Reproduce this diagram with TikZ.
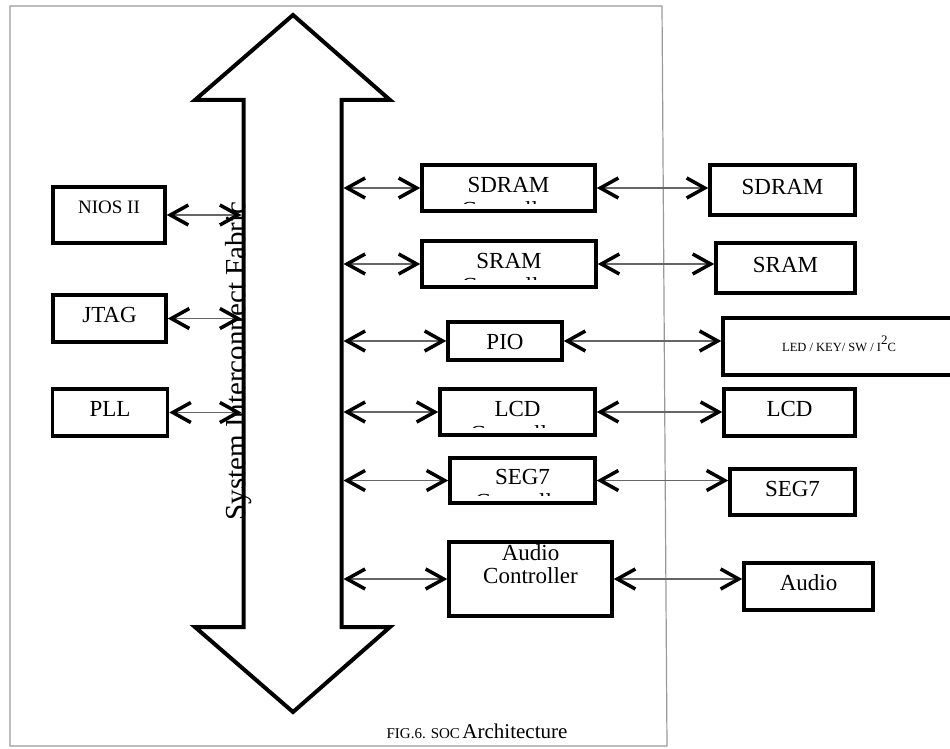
\documentclass[tikz,border=0pt]{standalone}
\usepackage{fontspec}
\setmainfont{Liberation Serif}
\usetikzlibrary{arrows.meta,calc}

\tikzset{
  blk/.style={draw, line width=3.5pt, inner sep=0pt, text height=16pt, text depth=8pt,
    font=\fontsize{23}{26}\selectfont},
  cutlbl/.style={inner sep=0pt, anchor=base, font=\fontsize{23}{26}\selectfont},
  link/.style={draw=black!60, line width=1.3pt, <->,
    >={Straight Barb[length=18pt,width=20pt,line width=3.5pt,color=black]}}
}

\begin{document}
\begin{tikzpicture}[x=1pt,y=-1pt]
\useasboundingbox (0,0) rectangle (950,749);

% outer frame
\draw[gray!80, line width=1.2pt] (10,6) -- (662,6) -- (667,746) -- (10,746) -- cycle;

% the interconnect (big double arrow)
\def\busL{243.5}
\def\busR{341.5}
\draw[line width=4pt] (293,15) -- (390,100) -- (\busR,100) -- (\busR,627) -- (390,627)
  -- (293,712) -- (195,627) -- (\busL,627) -- (\busL,100) -- (195,100) -- cycle;
\coordinate (busW) at ({\busL-2},0);
\coordinate (busE) at ({\busR+2},0);
\node[rotate=90, anchor=base, inner sep=0pt, font=\fontsize{29}{32}\selectfont] (fabric)
  at (245,361) {System Interconnect Fabric};

% masters on the left
\node[blk, minimum width=112pt, minimum height=56pt, text depth=20pt,
  font=\fontsize{19}{22}\selectfont] (nios) at (109,215) {NIOS II};
\node[blk, minimum width=113pt, minimum height=47pt] (jtag) at (109.5,318.5) {JTAG};
\node[blk, minimum width=115pt, minimum height=47pt] (pll) at (110,412.5) {PLL};
\foreach \m in {nios,jtag,pll}
  \draw[link] (\m.east) -- (\m.east -| busW);

% controllers (second line cut off)
\foreach \nm/\txt/\x/\y/\w/\h in {sdramc/SDRAM/508.5/188/173/46,
  sramc/SRAM/509/264/174/46, lcdc/LCD/517.5/412/155/46, seg7c/SEG7/522.5/480.5/145/45}
{
  \node[blk, minimum width=\w pt, minimum height=\h pt] (\nm) at (\x,\y) {\txt};
  \begin{scope}
    \clip ([yshift=9pt]\nm.south west) rectangle (\nm.north east);
    \node[cutlbl] at ([yshift=-29pt]\nm.center) {Controller};
  \end{scope}
}
\node[blk, minimum width=114pt, minimum height=38pt, text depth=0pt] (pio) at (505,341) {PIO};
\node[blk, minimum width=163pt, minimum height=74pt, align=center,
  font=\fontsize{23}{23}\selectfont] (audioc) at (530.5,579) {Audio\\Controller};

% devices on the right
\foreach \nm/\txt/\x/\y/\w/\h in {sdram/SDRAM/782.5/190/145/50, sram/SRAM/785.5/268/139/50,
  lcd/LCD/789.5/412.5/131/47, seg7/SEG7/792.5/492/125/46, audio/Audio/808.5/586.5/129/47}
  \node[blk, minimum width=\w pt, minimum height=\h pt] (\nm) at (\x,\y) {\txt};
\node[blk, minimum width=232pt, minimum height=57pt, text height=9pt, text depth=0pt,
  font=\fontsize{12.5}{14}\selectfont] (led) at (839,346.5)
  {LED / KEY/ SW / I\raisebox{7pt}{\fontsize{13}{14}\selectfont 2}C};

% links bus -> controller -> device
\foreach \c/\d in {sdramc/sdram, sramc/sram, pio/led, lcdc/lcd, seg7c/seg7, audioc/audio}
{
  \draw[link] (busE |- \c.west) -- (\c.west);
  \draw[link] (\c.east) -- (\c.east -| \d.west);
}

\node[anchor=base, inner sep=0pt] (caption) at (477,738)
  {{\fontsize{15}{17}\selectfont FIG.6. SOC} {\fontsize{21}{24}\selectfont Architecture}};
\end{tikzpicture}
\end{document}
